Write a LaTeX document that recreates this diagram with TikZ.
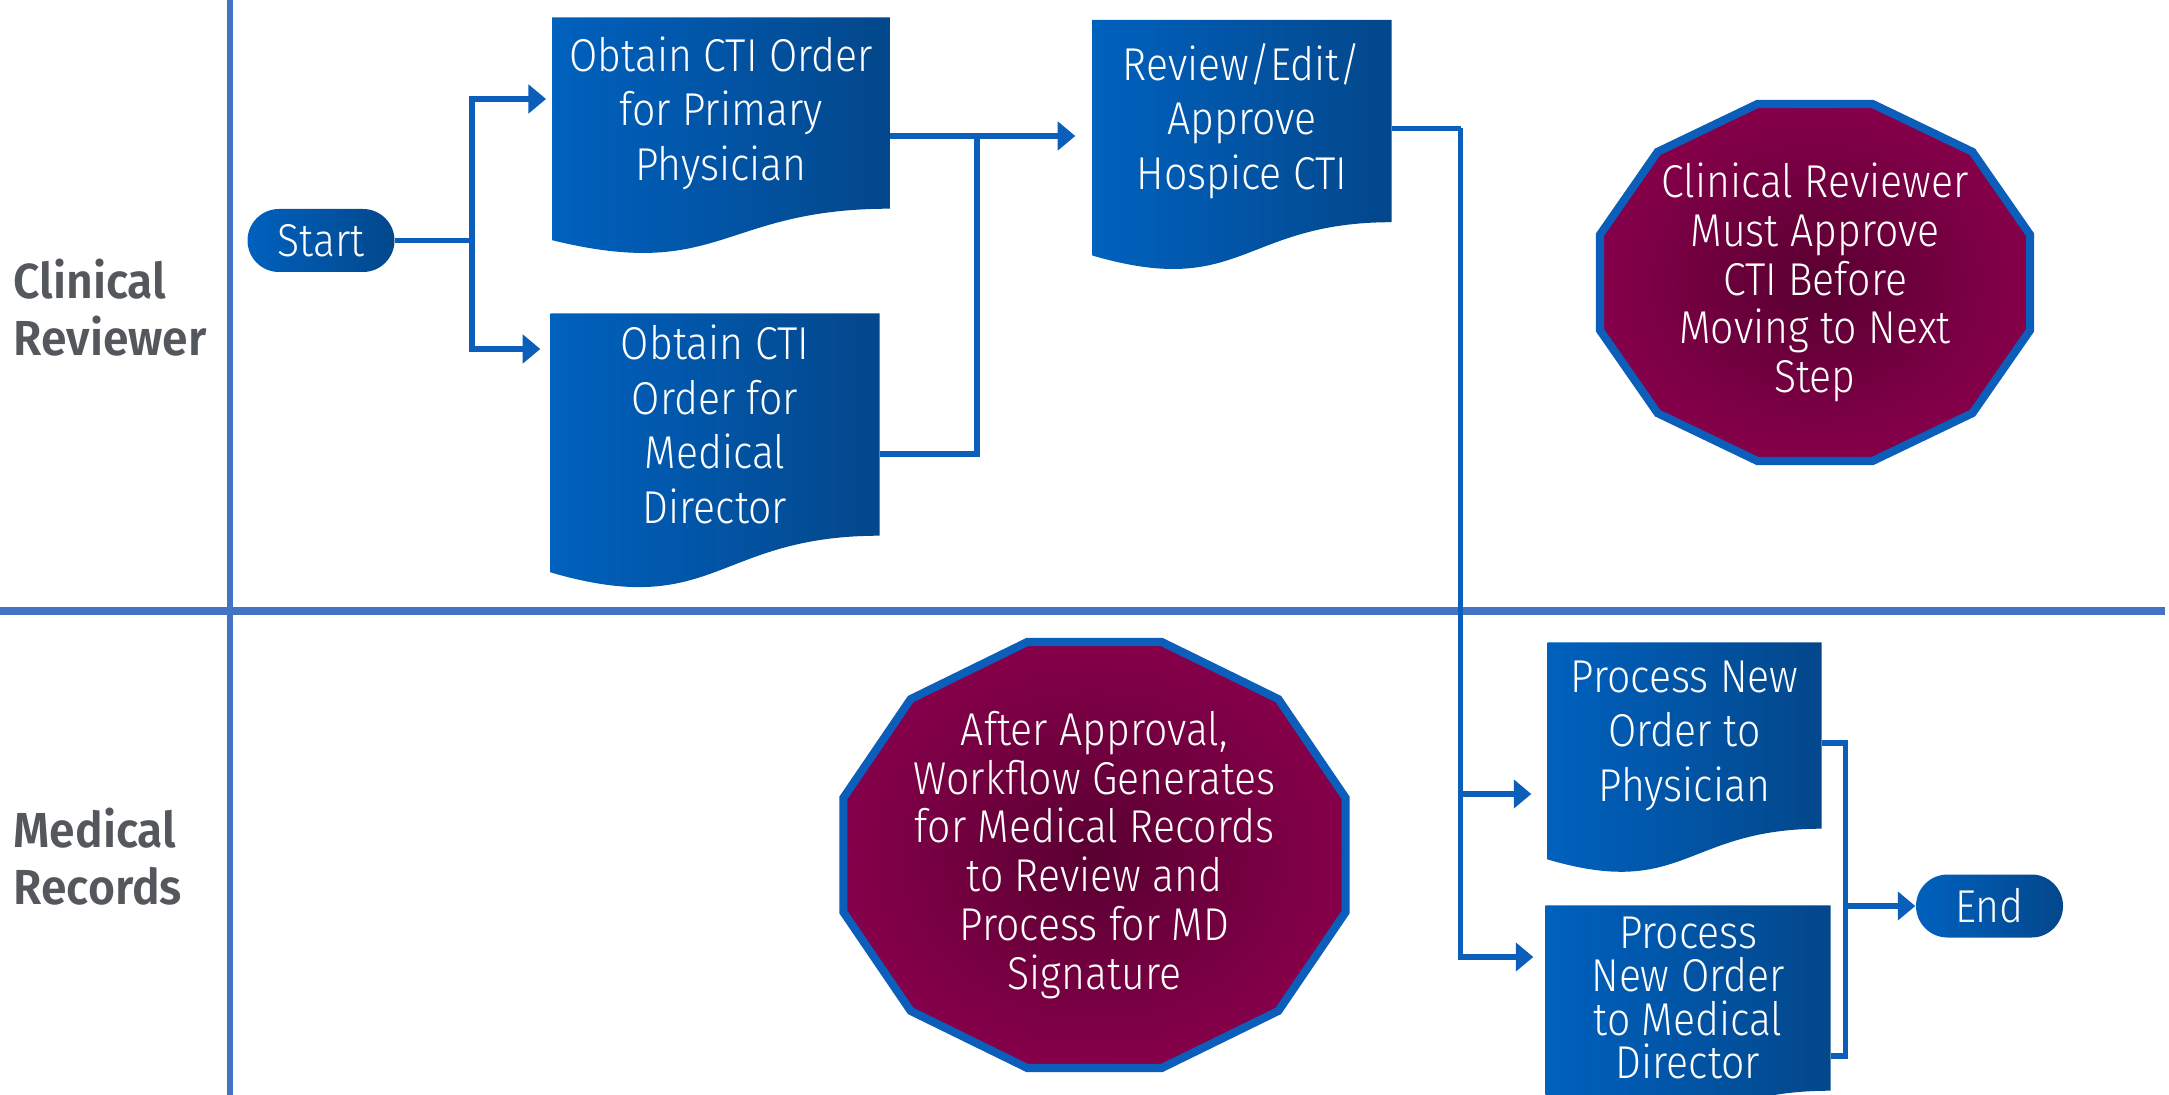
\documentclass[tikz,border=0pt]{standalone}
\usepackage{fontspec}
\usepackage{tikz}
\usetikzlibrary{arrows.meta, positioning, calc, backgrounds}
\newfontfamily\lightsf{Fira Sans Light}[FakeStretch=0.89]
\newfontfamily\lanesf{Fira Sans SemiBold}[FakeStretch=0.94]
\definecolor{lanegrid}{HTML}{4472C4}
\definecolor{flowblue}{HTML}{0B5EB9}
\definecolor{docleft}{HTML}{0061BE}
\definecolor{docright}{HTML}{03478B}
\definecolor{notein}{HTML}{590031}
\definecolor{noteout}{HTML}{85004A}
\definecolor{lanetext}{HTML}{54575C}

\begin{document}
\begin{tikzpicture}[
    txt/.style={text=white, align=center, inner sep=0pt,
                font=\lightsf\fontsize{13.1}{15.5}\selectfont},
    pill/.style={txt, left color=docleft, right color=docright,
                 rounded corners=0.315cm, minimum width=1.47cm, minimum height=0.63cm},
    note/.style={txt, font=\lightsf\fontsize{13.1}{13.9}\selectfont},
    lanelabel/.style={anchor=west, align=left, text=lanetext, inner sep=0pt,
                      font=\lanesf\fontsize{14}{16.2}\selectfont},
    link/.style={flowblue, line width=1.55pt},
    arr/.style={link, -{Triangle[length=5pt, width=8pt]}},
    lane/.style={lanegrid, line width=#1},
]
    \useasboundingbox (0,0) rectangle (21.69,-10.95);

    % swim lanes
    \draw[lane=1.6pt] (2.30,0) -- (2.30,-10.95);
    \draw[lane=2.3pt] (0,-6.11) -- (21.65,-6.11);
    \node[lanelabel] (lane1) at (0.13,-3.08) {Clinical\\Reviewer};
    \node[lanelabel] (lane2) at (0.13,-8.57) {Medical\\Records};

    % clinical reviewer
    \node[pill] (start) at (3.21,-2.405) {Start};
    \node[txt, minimum width=3.365cm, minimum height=1.90cm] (obtpp) at (7.21,-1.13)
        {Obtain CTI Order\\for Primary\\Physician};
    \node[txt, minimum width=3.28cm, minimum height=2.21cm] (obtmd) at (7.15,-4.245)
        {Obtain CTI\\Order for\\Medical\\Director};
    \node[txt, minimum width=2.98cm, minimum height=2.01cm] (review) at (12.42,-1.21)
        {Review/Edit/\\Approve\\Hospice CTI};
    \node[note] (must) at (18.15,-2.825)
        {Clinical Reviewer\\Must Approve\\CTI Before\\Moving to Next\\Step};

    % medical records
    \node[note] (after) at (10.945,-8.55)
        {After Approval,\\Workflow Generates\\for Medical Records\\to Review and\\Process for MD\\Signature};
    \node[txt, minimum width=2.73cm, minimum height=1.85cm] (procpp) at (16.845,-7.355)
        {Process New\\Order to\\Physician};
    \node[txt, minimum width=2.84cm, minimum height=1.84cm,
          font=\lightsf\fontsize{13.1}{12.4}\selectfont] (procmd) at (16.88,-9.98)
        {Process\\New Order\\to Medical\\Director};
    \node[pill] (end) at (19.895,-9.06) {End};

    % shapes behind the texts
    \begin{scope}[on background layer]
        \clip (0,0) rectangle (21.69,-10.95);
        \foreach \n in {obtpp, obtmd, review, procpp, procmd}
            \shade[left color=docleft, right color=docright]
                (\n.north west) -- (\n.north east) -- (\n.south east)
                .. controls (\n.south) and ($(\n.north)!1.381!(\n.south)$)
                .. ($(\n.north west)!1.1646!(\n.south west)$) -- cycle;
        \foreach \n/\rx/\ry in {must/2.226/1.848, after/2.600/2.205}
            \draw[shift={(\n.center)}, draw=flowblue, line width=2.3pt,
                  inner color=notein, outer color=noteout]
                (15:\rx cm and \ry cm)
                \foreach \a in {45,75,...,345} { -- (\a:\rx cm and \ry cm)} -- cycle;
    \end{scope}

    % connectors
    \draw[link] (start.east) -- ++(0.77,0) coordinate (fork);
    \draw[arr] (fork) |- ([shift={(-0.06,0.14)}]obtpp.west);
    \draw[arr] (fork) |- ([shift={(-0.10,0.755)}]obtmd.west);
    \draw[arr] ([yshift=-0.23cm]obtpp.east) -- coordinate[pos=0.47] (merge)
        ([shift={(-0.17,-0.15)}]review.west);
    \draw[link] ([yshift=-0.295cm]obtmd.east) -| (merge);
    \draw[link] ([yshift=-0.075cm]review.east) -- ++(0.69,0) coordinate (drop);
    \draw[arr] (drop) |- ([shift={(-0.16,-0.585)}]procpp.west);
    \draw[arr] (drop) |- ([shift={(-0.12,0.41)}]procmd.west);
    \coordinate (gather) at ([xshift=-0.7cm]end.west);
    \draw[arr] (gather) -- (end.west);
    \draw[link] ([yshift=-0.075cm]procpp.east) -| (gather);
    \draw[link] ([yshift=-0.58cm]procmd.east) -| (gather);
\end{tikzpicture}
\end{document}
